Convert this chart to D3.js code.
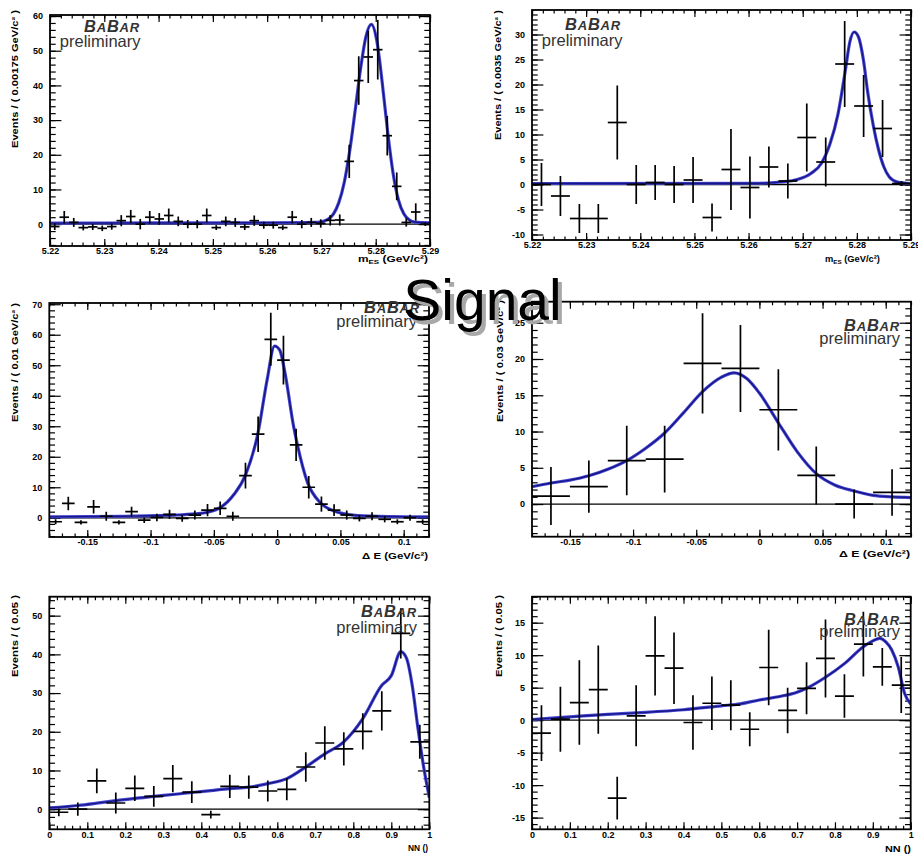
<!DOCTYPE html>
<html>
<head>
<meta charset="utf-8">
<script src="https://cdn.jsdelivr.net/npm/d3@7"></script>
<style>
  body { margin: 0; background: #fff; }
  text { font-family: "Liberation Sans", Arial, Helvetica, sans-serif; }
</style>
</head>
<body>
<div id="chart"></div>
<script>
// ---------- data ----------

// top left : mES, bins of 0.00175
const p1Centers = [5.220875, 5.222625, 5.224375, 5.226125, 5.227875, 5.229625, 5.231375, 5.233125, 5.234875, 5.236625,
  5.238375, 5.240125, 5.241875, 5.243625, 5.245375, 5.247125, 5.248875, 5.250625, 5.252375, 5.254125,
  5.255875, 5.257625, 5.259375, 5.261125, 5.262875, 5.264625, 5.266375, 5.268125, 5.269875, 5.271625,
  5.273375, 5.275125, 5.276875, 5.278625, 5.280375, 5.282125, 5.283875, 5.285625, 5.287375, 5.289125]
const p1Counts = [-0.7, 2.0, 0.5, -1.0, -0.8, -1.2, -0.7, 1.0, 2.2, 0.0, 2.0, 1.5, 2.5, 0.8, 0.0, 0.0, 2.5, -1.0, 0.8, 0.5,
  -0.8, 1.0, -0.3, -0.3, -1.0, 2.0, 0.0, 0.5, 0.2, 1.1, 1.2, 18.1, 41.4, 48.2, 50.3, 25.5, 10.9, 0.5, 3.5, 0.0]
const p1Errors = [1.0, 1.8, 1.3, 0.8, 0.9, 0.8, 0.9, 1.6, 1.9, 1.5, 1.8, 1.7, 2.0, 1.4, 1.2, 1.2, 2.0, 0.7, 1.4, 1.3,
  0.9, 1.5, 1.0, 1.0, 0.7, 1.8, 1.2, 1.3, 1.2, 1.5, 1.6, 4.8, 7.0, 7.5, 8.6, 5.7, 4.0, 1.2, 2.5, 0.5]
const p1CurveX = [5.22, 5.24, 5.26, 5.266, 5.2692, 5.2702, 5.2712, 5.2722, 5.2732, 5.2742, 5.2752, 5.2762, 5.2772, 5.2782,
  5.2792, 5.2802, 5.2812, 5.2822, 5.2832, 5.2842, 5.2852, 5.2862, 5.2872, 5.29]
const p1CurveY = [0.3, 0.35, 0.4, 0.45, 0.5, 0.73, 1.4, 2.9, 6.2, 12.0, 21.0, 32.6, 44.7, 54.1,
  57.6, 52.9, 40.8, 26.6, 14.7, 6.9, 2.9, 1.2, 0.6, 0.4]

// top right : mES, bins of 0.0035
const p2Centers = [5.22175, 5.22525, 5.22875, 5.23225, 5.23575, 5.23925, 5.24275, 5.24625, 5.24975, 5.25325,
  5.25675, 5.26025, 5.26375, 5.26725, 5.27075, 5.27425, 5.27775, 5.28125, 5.28475, 5.28825]
const p2Counts = [0.0, -2.3, -6.8, -6.8, 12.4, 0.0, 0.4, 0.0, 0.9, -6.6, 3.0, -0.6, 3.5, 0.7, 9.4, 4.5, 24.1, 15.7, 11.2, 0.2]
const p2Errors = [4.3, 4.0, 2.9, 2.9, 7.4, 3.9, 3.5, 3.7, 4.6, 2.8, 8.1, 6.2, 4.1, 3.5, 6.8, 4.9, 8.6, 6.2, 5.7, 0.5]
const p2CurveX = [5.22, 5.262, 5.266, 5.269, 5.2715, 5.2735, 5.275, 5.2765, 5.2779, 5.2787, 5.2795, 5.2803, 5.2812,
  5.282, 5.283, 5.284, 5.285, 5.286, 5.2875, 5.29]
const p2CurveY = [0.2, 0.25, 0.5, 1.0, 2.2, 4.3, 8, 14, 23, 28.5, 30.5, 29.5, 25, 18.5, 12, 7, 3.5, 1.5, 0.5, 0.2]

// middle left : Delta E, bins of 0.01
const p3Centers = [-0.175, -0.165, -0.155, -0.145, -0.135, -0.125, -0.115, -0.105, -0.095, -0.085,
  -0.075, -0.065, -0.055, -0.045, -0.035, -0.025, -0.015, -0.005, 0.005, 0.015,
  0.025, 0.035, 0.045, 0.055, 0.065, 0.075, 0.085, 0.095, 0.105, 0.115]
const p3Counts = [-1.3, 4.7, -1.5, 3.6, 0.5, -1.5, 2.0, -0.8, 0.1, 1.1, -0.2, 0.9, 2.5, 3.1, 0.5,
  13.8, 27.4, 58.5, 51.7, 23.9, 10.0, 4.5, 2.5, 0.9, -0.2, 0.5, -0.5, -1.3, 0.0, -1.3]
const p3Errors = [0.8, 2.2, 0.7, 2.2, 1.5, 0.7, 1.6, 0.9, 1.2, 1.5, 1.1, 1.5, 2.0, 2.2, 1.5,
  4.2, 5.8, 8.7, 8.0, 5.3, 3.7, 2.5, 1.9, 1.5, 1.0, 1.3, 1.0, 0.8, 1.0, 0.8]
const p3CurveX = [-0.18, -0.12, -0.08, -0.065, -0.055, -0.045, -0.034, -0.025, -0.015, -0.008, -0.002, 0.002, 0.006,
  0.013, 0.016, 0.024, 0.034, 0.045, 0.06, 0.08, 0.12]
const p3CurveY = [0.3, 0.5, 0.9, 1.3, 1.8, 3.3, 7.7, 14, 28, 45, 56.3, 55, 48, 30, 24, 11.6, 5, 2.2, 0.9, 0.5, 0.3]

// middle right : Delta E, bins of 0.03
const p4Centers = [-0.165, -0.135, -0.105, -0.075, -0.045, -0.015, 0.015, 0.045, 0.075, 0.105]
const p4Counts = [1.1, 2.4, 6.0, 6.2, 19.4, 18.7, 13.0, 3.95, 0.0, 1.6]
const p4Errors = [4.0, 3.6, 4.8, 4.6, 6.9, 6.0, 5.6, 4.0, 2.0, 3.2]
const p4CurveX = [-0.18, -0.165, -0.15, -0.135, -0.12, -0.105, -0.09, -0.075, -0.06, -0.045, -0.03, -0.02, -0.01, 0,
  0.015, 0.03, 0.045, 0.06, 0.075, 0.09, 0.105, 0.12]
const p4CurveY = [2.4, 2.9, 3.3, 3.9, 4.8, 6.0, 7.7, 9.8, 12.6, 15.5, 17.5, 18.1, 17.3, 15.3,
  11.2, 7.2, 4.2, 2.6, 1.8, 1.2, 1.0, 0.9]

// bottom : NN output, bins of 0.05
const nnCenters = [0.025, 0.075, 0.125, 0.175, 0.225, 0.275, 0.325, 0.375, 0.425, 0.475,
  0.525, 0.575, 0.625, 0.675, 0.725, 0.775, 0.825, 0.875, 0.925, 0.975]
const p5Counts = [-0.8, 0.0, 7.3, 1.6, 5.4, 3.3, 7.9, 4.4, -1.4, 5.9, 5.7, 4.7, 5.1, 10.9, 17.1, 15.6, 20.1, 25.4, 45.4, 17.4]
const p5Errors = [1.0, 1.7, 3.2, 2.7, 3.3, 2.7, 3.5, 2.8, 1.0, 3.0, 3.0, 2.7, 2.8, 3.8, 4.3, 4.3, 4.7, 5.1, 6.5, 4.4]
const p5CurveX = [0, 0.025, 0.075, 0.125, 0.175, 0.225, 0.275, 0.325, 0.375, 0.425, 0.475, 0.525, 0.575, 0.625,
  0.675, 0.725, 0.775, 0.825, 0.875, 0.9, 0.925, 0.94, 0.955, 0.97, 0.985, 1.0]
const p5CurveY = [0.35, 0.5, 0.95, 1.55, 2.2, 2.8, 3.3, 3.8, 4.3, 4.8, 5.3, 5.7, 6.6, 7.9,
  10.9, 14.3, 17.4, 23.4, 32, 34.5, 40.7, 39, 32, 21, 11, 3]

const p6Counts = [-2.0, 0.15, 2.7, 4.7, -12.0, 0.67, 9.9, 8.0, -0.36, 2.6, 2.3, -1.4, 8.1, 1.5, 4.9, 9.5, 3.7, 11.7, 8.2, 5.4]
const p6Errors = [4.3, 5.0, 6.5, 6.8, 3.3, 4.7, 6.1, 5.5, 4.2, 4.1, 3.85, 2.6, 5.8, 3.5, 4.0, 6.0, 3.35, 5.0, 2.9, 4.3]
const p6CurveX = [0, 0.1, 0.2, 0.3, 0.4, 0.5, 0.55, 0.6, 0.65, 0.7, 0.725, 0.775, 0.825, 0.875, 0.9, 0.918,
  0.935, 0.95, 0.967, 0.984, 1.0]
const p6CurveY = [0.1, 0.5, 0.9, 1.2, 1.6, 2.2, 2.5, 3.1, 3.6, 4.3, 4.9, 6.6, 8.7, 11.3, 12.2, 12.6,
  12.0, 10.8, 8.2, 4.1, 2.5]

// tick labels
const mesTicks = [5.22, 5.23, 5.24, 5.25, 5.26, 5.27, 5.28, 5.29]
const deTicks = [-0.15, -0.1, -0.05, 0, 0.05, 0.1]
const nnTicks = [0, 0.1, 0.2, 0.3, 0.4, 0.5, 0.6, 0.7, 0.8, 0.9, 1]
const p1YTicks = [0, 10, 20, 30, 40, 50, 60]
const p2YTicks = [-10, -5, 0, 5, 10, 15, 20, 25, 30]
const p3YTicks = [0, 10, 20, 30, 40, 50, 60, 70]
const p4YTicks = [0, 5, 10, 15, 20, 25]
const p5YTicks = [0, 10, 20, 30, 40, 50]
const p6YTicks = [-15, -10, -5, 0, 5, 10, 15]

// ---------- drawing ----------
const svg = d3.select("#chart").append("svg")
    .attr("width", 918)
    .attr("height", 855)
    .style("background", "#fff")

const fmt = d => String(+d.toFixed(4))

// list of minor tick positions inside a domain
function minorTicks(domain, step) {
    var out = []
    var start = Math.ceil(domain[0] / step - 1e-6)
    for (var i = start; i * step <= domain[1] + 1e-9; i++) {
        out.push(+(i * step).toFixed(6))
    }
    return out
}

function drawPanel(p) {
    const g = svg.append("g")
    const x = d3.scaleLinear().domain(p.xDomain).range([p.x0, p.x1])
    const y = d3.scaleLinear().domain(p.yDomain).range([p.y1, p.y0])

    // ROOT style: tick length is 3% of the other side of the frame
    const xTickLen = 0.03 * (p.y1 - p.y0)
    const yTickLen = 0.03 * (p.x1 - p.x0)
    const xMinor = minorTicks(p.xDomain, p.xMinor)
    const yMinor = minorTicks(p.yDomain, p.yMinor)

    // clip everything that is drawn inside the frame
    g.append("clipPath").attr("id", "clip" + p.id)
        .append("rect")
        .attr("x", p.x0).attr("y", p.y0)
        .attr("width", p.x1 - p.x0).attr("height", p.y1 - p.y0)

    // bottom axis with labels + minor ticks
    g.append("g").attr("transform", `translate(0,${p.y1})`)
        .call(d3.axisBottom(x).tickValues(p.xTicks).tickSizeInner(-xTickLen).tickSizeOuter(0).tickPadding(2).tickFormat(fmt))
    g.append("g").attr("transform", `translate(0,${p.y1})`)
        .call(d3.axisBottom(x).tickValues(xMinor).tickSizeInner(-xTickLen / 2).tickSizeOuter(0).tickFormat(""))
    // top axis, ticks only
    g.append("g").attr("transform", `translate(0,${p.y0})`)
        .call(d3.axisTop(x).tickValues(p.xTicks).tickSizeInner(-xTickLen).tickSizeOuter(0).tickFormat(""))
    g.append("g").attr("transform", `translate(0,${p.y0})`)
        .call(d3.axisTop(x).tickValues(xMinor).tickSizeInner(-xTickLen / 2).tickSizeOuter(0).tickFormat(""))
    // left axis with labels + minor ticks
    g.append("g").attr("transform", `translate(${p.x0},0)`)
        .call(d3.axisLeft(y).tickValues(p.yTicks).tickSizeInner(-yTickLen).tickSizeOuter(0).tickPadding(7).tickFormat(fmt))
    g.append("g").attr("transform", `translate(${p.x0},0)`)
        .call(d3.axisLeft(y).tickValues(yMinor).tickSizeInner(-yTickLen / 2).tickSizeOuter(0).tickFormat(""))
    // right axis, ticks only
    g.append("g").attr("transform", `translate(${p.x1},0)`)
        .call(d3.axisRight(y).tickValues(p.yTicks).tickSizeInner(-yTickLen).tickSizeOuter(0).tickFormat(""))
    g.append("g").attr("transform", `translate(${p.x1},0)`)
        .call(d3.axisRight(y).tickValues(yMinor).tickSizeInner(-yTickLen / 2).tickSizeOuter(0).tickFormat(""))

    g.selectAll(".domain").remove()
    g.selectAll(".tick line").attr("stroke", "#000").attr("stroke-width", 1.2)
    g.selectAll(".tick text")
        .attr("fill", "#000")
        .attr("font-family", "'Liberation Sans', Arial, sans-serif")
        .attr("font-size", 9)
        .attr("font-weight", "bold")

    // zero line
    g.append("line")
        .attr("x1", p.x0).attr("x2", p.x1)
        .attr("y1", y(0)).attr("y2", y(0))
        .attr("stroke", "#000")
        .attr("stroke-width", 1.3)

    const inside = g.append("g").attr("clip-path", `url(#clip${p.id})`)

    // fitted pdf
    const curvePts = p.curveX.map((cx, i) => [cx, p.curveY[i]])
    const line = d3.line()
        .x(d => x(d[0]))
        .y(d => y(d[1]))
        .curve(d3.curveMonotoneX)
    inside.append("path")
        .datum(curvePts)
        .attr("d", line)
        .attr("fill", "none")
        .attr("stroke", "#4848d0")
        .attr("stroke-width", 3.2)
    inside.append("path")
        .datum(curvePts)
        .attr("d", line)
        .attr("fill", "none")
        .attr("stroke", "#16168c")
        .attr("stroke-width", 1.4)

    // data points with error crosses
    const pts = p.centers.map((c, i) => ({ c: c, v: p.counts[i], e: p.errors[i] }))
    const cross = inside.selectAll("g.pt")
        .data(pts)
        .enter()
        .append("g")
        .attr("class", "pt")
    cross.append("line")
        .attr("x1", d => x(d.c)).attr("x2", d => x(d.c))
        .attr("y1", d => y(d.v - d.e)).attr("y2", d => y(d.v + d.e))
        .attr("stroke", "#000").attr("stroke-width", 1.7)
    cross.append("line")
        .attr("x1", d => x(d.c - p.binWidth / 2)).attr("x2", d => x(d.c + p.binWidth / 2))
        .attr("y1", d => y(d.v)).attr("y2", d => y(d.v))
        .attr("stroke", "#000").attr("stroke-width", 1.7)

    // frame
    g.append("rect")
        .attr("x", p.x0).attr("y", p.y0)
        .attr("width", p.x1 - p.x0).attr("height", p.y1 - p.y0)
        .attr("fill", "none")
        .attr("stroke", "#000")
        .attr("stroke-width", 1.8)

    // y axis title, rotated, aligned to the top of the axis
    g.append("text")
        .attr("transform", `translate(${p.yTitleX},${p.yTitleTop}) rotate(-90)`)
        .attr("text-anchor", "end")
        .attr("dy", "0.35em")
        .attr("font-size", 8.5)
        .attr("font-weight", "bold")
        .attr("textLength", p.yTitleLen)
        .attr("lengthAdjust", "spacingAndGlyphs")
        .text(p.yTitle)

    // x axis title, aligned right
    const xt = g.append("text")
        .attr("x", p.xTitleRight)
        .attr("y", p.xTitleY)
        .attr("text-anchor", "end")
        .attr("font-size", 9)
        .attr("font-weight", "bold")
        .attr("textLength", p.xTitleLen)
        .attr("lengthAdjust", "spacingAndGlyphs")
    xt.append("tspan").text(p.xTitle[0])
    if (p.xTitle[1]) {
        xt.append("tspan").attr("font-size", 6).attr("dy", 2).text(p.xTitle[1])
        xt.append("tspan").attr("dy", -2).text(p.xTitle[2])
    }

    // BABAR logo
    const logo = g.append("text")
        .attr("x", p.logoRight)
        .attr("y", p.logoY)
        .attr("text-anchor", "end")
        .attr("font-family", "'Liberation Serif', 'Times New Roman', serif")
        .attr("font-style", "italic")
        .attr("font-weight", "bold")
        .attr("fill", "#333")
        .attr("letter-spacing", 0.8)
    logo.append("tspan").attr("font-size", 16.5).text("B")
    logo.append("tspan").attr("font-size", 13).text("A")
    logo.append("tspan").attr("font-size", 16.5).text("B")
    logo.append("tspan").attr("font-size", 13).text("AR")

    g.append("text")
        .attr("x", p.prelimRight)
        .attr("y", p.prelimY)
        .attr("text-anchor", "end")
        .attr("font-size", 16.5)
        .attr("fill", "#333")
        .text("preliminary")
}

const panels = [
    { id: 1, x0: 50, x1: 430, y0: 15, y1: 246, xDomain: [5.22, 5.29], yDomain: [-6.3, 60.3],
      xTicks: mesTicks, xMinor: 0.002, yTicks: p1YTicks, yMinor: 2, binWidth: 0.00175,
      centers: p1Centers, counts: p1Counts, errors: p1Errors, curveX: p1CurveX, curveY: p1CurveY,
      yTitle: "Events / ( 0.00175 GeV/c² )", yTitleX: 15, yTitleTop: 10, yTitleLen: 138,
      xTitle: ["m", "ES", " (GeV/c²)"], xTitleRight: 428, xTitleY: 262, xTitleLen: 70,
      logoRight: 140, logoY: 31.5, prelimRight: 140.5, prelimY: 46.5 },
    { id: 2, x0: 532, x1: 911, y0: 10, y1: 240, xDomain: [5.22, 5.29], yDomain: [-11.1, 34.9],
      xTicks: mesTicks, xMinor: 0.002, yTicks: p2YTicks, yMinor: 1, binWidth: 0.0035,
      centers: p2Centers, counts: p2Counts, errors: p2Errors, curveX: p2CurveX, curveY: p2CurveY,
      yTitle: "Events / ( 0.0035 GeV/c² )", yTitleX: 498, yTitleTop: 10, yTitleLen: 130,
      xTitle: ["m", "ES", " (GeV/c²)"], xTitleRight: 880, xTitleY: 262, xTitleLen: 55,
      logoRight: 621, logoY: 30, prelimRight: 622.5, prelimY: 46 },
    { id: 3, x0: 49.3, x1: 429, y0: 303, y1: 537, xDomain: [-0.18, 0.12], yDomain: [-6.3, 70.4],
      xTicks: deTicks, xMinor: 0.01, yTicks: p3YTicks, yMinor: 2, binWidth: 0.01,
      centers: p3Centers, counts: p3Counts, errors: p3Errors, curveX: p3CurveX, curveY: p3CurveY,
      yTitle: "Events / ( 0.01 GeV/c² )", yTitleX: 15, yTitleTop: 303, yTitleLen: 119,
      xTitle: ["Δ E (GeV/c²)"], xTitleRight: 428, xTitleY: 559, xTitleLen: 66,
      logoRight: 420, logoY: 313, prelimRight: 417, prelimY: 327 },
    { id: 4, x0: 532, x1: 911, y0: 301.7, y1: 536.7, xDomain: [-0.18, 0.12], yDomain: [-4.5, 27.9],
      xTicks: deTicks, xMinor: 0.01, yTicks: p4YTicks, yMinor: 1, binWidth: 0.03,
      centers: p4Centers, counts: p4Counts, errors: p4Errors, curveX: p4CurveX, curveY: p4CurveY,
      yTitle: "Events / ( 0.03 GeV/c² )", yTitleX: 500, yTitleTop: 300, yTitleLen: 122,
      xTitle: ["Δ E (GeV/c²)"], xTitleRight: 910, xTitleY: 557, xTitleLen: 71,
      logoRight: 900, logoY: 331, prelimRight: 900, prelimY: 344 },
    { id: 5, x0: 49.3, x1: 429.3, y0: 596.7, y1: 829.3, xDomain: [0, 1], yDomain: [-5.2, 54.9],
      xTicks: nnTicks, xMinor: 0.02, yTicks: p5YTicks, yMinor: 2, binWidth: 0.05,
      centers: nnCenters, counts: p5Counts, errors: p5Errors, curveX: p5CurveX, curveY: p5CurveY,
      yTitle: "Events / ( 0.05 )", yTitleX: 15, yTitleTop: 595, yTitleLen: 82,
      xTitle: ["NN ()"], xTitleRight: 428, xTitleY: 851, xTitleLen: 20,
      logoRight: 417, logoY: 617, prelimRight: 417, prelimY: 633 },
    { id: 6, x0: 532, x1: 910.7, y0: 596.7, y1: 829.3, xDomain: [0, 1], yDomain: [-16.8, 19],
      xTicks: nnTicks, xMinor: 0.02, yTicks: p6YTicks, yMinor: 1, binWidth: 0.05,
      centers: nnCenters, counts: p6Counts, errors: p6Errors, curveX: p6CurveX, curveY: p6CurveY,
      yTitle: "Events / ( 0.05 )", yTitleX: 499, yTitleTop: 595, yTitleLen: 82,
      xTitle: ["NN ()"], xTitleRight: 911, xTitleY: 852, xTitleLen: 26,
      logoRight: 900, logoY: 625, prelimRight: 900, prelimY: 637 }
]

panels.forEach(drawPanel)

// big slide title with its grey shadow, on top of everything
svg.append("text")
    .attr("x", 486.5).attr("y", 324)
    .attr("text-anchor", "middle")
    .attr("font-size", 57)
    .attr("fill", "#a8a8a8")
    .text("Signal")
svg.append("text")
    .attr("x", 482.5).attr("y", 320)
    .attr("text-anchor", "middle")
    .attr("font-size", 57)
    .attr("fill", "#000")
    .text("Signal")
</script>
</body>
</html>
